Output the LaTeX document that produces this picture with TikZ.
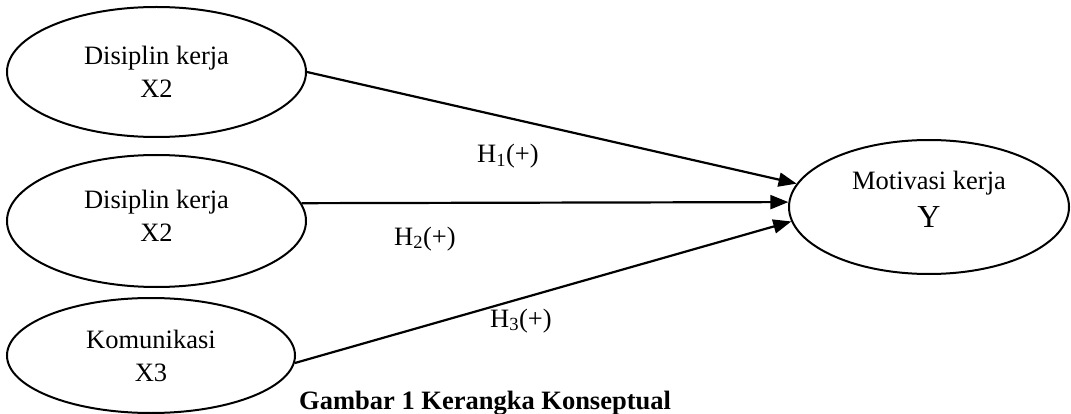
\documentclass[tikz,border=0pt]{standalone}
\usepackage{fontspec}
\setmainfont{Liberation Serif}
\usetikzlibrary{shapes.geometric,arrows.meta}
\begin{document}
\begin{tikzpicture}[x=1pt,y=-1pt,
  var/.style={draw, ellipse, line width=2pt, inner sep=0pt, align=center,
    font=\fontsize{26.5}{33}\selectfont},
  conn/.style={line width=2.2pt, -{Triangle[length=18pt,width=14pt]}},
  hlab/.style={anchor=base west, inner sep=0pt, font=\fontsize{26.5}{32}\selectfont}]
\useasboundingbox (0,0) rectangle (1071,414);
\node[var, minimum width=299pt, minimum height=130pt] (x1) at (156.5,72) {Disiplin kerja\\X2};
\node[var, minimum width=299pt, minimum height=132pt, text depth=10pt] (x2) at (156.5,221) {Disiplin kerja\\X2};
\node[var, minimum width=288pt, minimum height=115pt] (x3) at (151,355.5) {Komunikasi\\X3};
\node[var, minimum width=280pt, minimum height=134pt, text depth=16pt] (y) at (929,207)
  {Motivasi kerja\\[5pt]{\fontsize{32}{36}\selectfont Y}};
\draw[conn] (x1.east) -- (y.170);
\draw[conn] (x2.7) -- (y.178);
\draw[conn] (x3.-3) -- (y.186);
\node[hlab] (h1) at (477,163) {H\textsubscript{1}(+)};
\node[hlab] (h2) at (394,245) {H\textsubscript{2}(+)};
\node[hlab] (h3) at (490,327) {H\textsubscript{3}(+)};
\node[hlab, font=\fontsize{26.5}{32}\selectfont\bfseries] (cap) at (299,409) {Gambar 1 Kerangka Konseptual};
\end{tikzpicture}
\end{document}
